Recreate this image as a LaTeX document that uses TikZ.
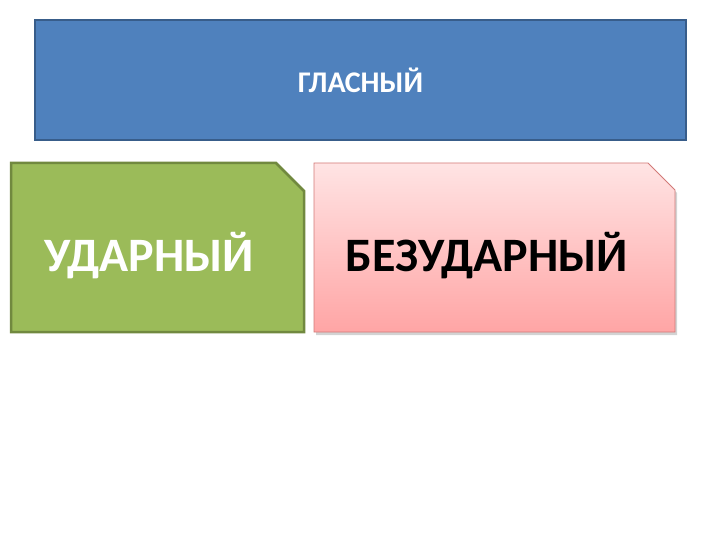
\documentclass[tikz,border=0pt]{standalone}
\usepackage{fontspec}
\setmainfont{Carlito}
\usepackage{tikz}
\usetikzlibrary{shadows}

\definecolor{glasnyfill}{HTML}{4F81BD}
\definecolor{glasnyline}{HTML}{385D8A}
\definecolor{udarnyfill}{HTML}{9BBB59}
\definecolor{udarnyline}{HTML}{71893F}
\definecolor{bezudarnytop}{HTML}{FFE4E4}
\definecolor{bezudarnybottom}{HTML}{FFA5A5}
\definecolor{bezudarnyline}{HTML}{D27A78}

\tikzset{
  bigword/.style={inner sep=0pt, font=\bfseries\fontsize{48}{48}\selectfont}
}

\begin{document}
\begin{tikzpicture}[x=1pt,y=-1pt]
      \useasboundingbox (0,0) rectangle (720,540);

      \node[draw=glasnyline,line width=2.5pt,fill=glasnyfill,text=white,
        minimum width=651pt,minimum height=120pt,
        font=\bfseries\fontsize{30}{30}\selectfont] (glasny) at (360.5,80) {ГЛАСНЫЙ};

      % snipped boxes
      \draw[udarnyline,line width=2.5pt,fill=udarnyfill]
        (11,163) -- (276,163) -- (304,191) -- (304,332) -- (11,332) -- cycle;
      \draw[bezudarnyline,line width=0.8pt,top color=bezudarnytop,bottom color=bezudarnybottom,
        drop shadow={shadow xshift=2pt,shadow yshift=-3pt,opacity=0.35}]
        (314,163) -- (648,163) -- (675,190) -- (675,332) -- (314,332) -- cycle;

      \node[bigword,text=white] (udarny) at (149.5,256) {УДАРНЫЙ};
      \node[bigword,text=black] (bezudarny) at (487,256) {БЕЗУДАРНЫЙ};
    \end{tikzpicture}
\end{document}
